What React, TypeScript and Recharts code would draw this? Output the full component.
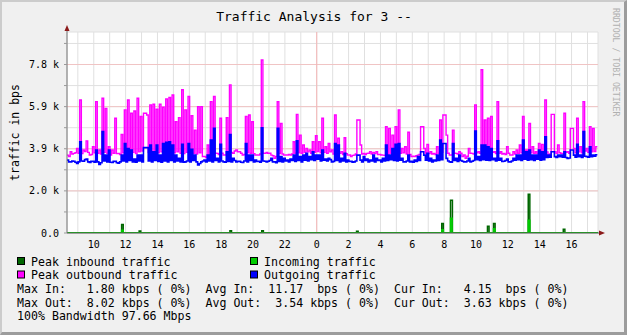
import React from "react";
import { LineChart, Line, XAxis, YAxis, CartesianGrid, ReferenceLine } from "recharts";

// time axis, in hours from midnight of the first day (24 = next midnight)
const START_HOUR = 8.32;
const END_HOUR = 41.66;
const STEP_HOURS = 0.1;
const MIDNIGHT = 24;
const hourTicks = [9, 10, 11, 12, 13, 14, 15, 16, 17, 18, 19, 20, 21, 22, 23, 24, 25, 26, 27, 28, 29, 30, 31, 32, 33, 34, 35, 36, 37, 38, 39, 40, 41];

// y axis in kbps (rrdtool uses 1024 based steps)
const Y_MAX = 9.32;
const yTicks = [0, 0.9765625, 1.953125, 2.9296875, 3.90625, 4.8828125, 5.859375, 6.8359375, 7.8125, 8.7890625];
const yMajor = [1.953125, 3.90625, 5.859375, 7.8125];

// Peak outbound traffic, kbps, one value per 6 minutes
const peakOut = [
  3.61, 3.55, 3.77, 3.66, 3.69, 3.72, 3.92, 3.70, 6.17, 3.68, 3.85, 3.78, 4.27, 3.74, 3.61, 3.64, 4.00, 3.72, 6.09, 3.70,
  3.85, 3.66, 6.25, 3.74, 5.78, 3.70, 4.00, 3.62, 3.85, 3.70, 5.32, 3.68, 3.69, 3.64, 4.57, 3.72, 5.71, 3.76, 6.17, 3.70,
  5.55, 3.74, 5.66, 3.68, 6.25, 3.76, 5.40, 3.80, 5.55, 5.55, 5.47, 3.74, 5.94, 3.70, 5.97, 3.78, 5.74, 3.72, 5.97, 3.76,
  5.83, 3.70, 6.22, 3.74, 6.28, 3.80, 6.40, 3.72, 5.16, 3.76, 5.35, 3.70, 6.64, 3.68, 5.71, 3.74, 6.33, 3.78, 5.44, 3.70,
  4.77, 3.66, 5.86, 3.72,
  5.86, 3.55, 3.55, 3.50, 4.08, 3.62, 6.09, 3.66, 6.33, 3.70, 3.69, 3.64, 5.32, 3.70, 3.61, 3.62, 5.35, 3.72, 6.87, 3.74,
  3.69, 3.80, 3.85, 3.76, 3.77, 3.70, 3.61, 3.64, 5.40, 3.72, 5.47, 3.70, 5.16, 3.68, 3.61, 3.62, 3.61, 3.66, 8.02, 3.70,
  3.69, 3.74, 3.69, 3.70, 3.61, 3.58, 3.46, 3.55, 6.09, 3.68, 5.08, 3.66, 3.61, 3.62, 3.61, 3.64, 3.61, 3.66, 4.23, 3.70,
  5.50, 3.72, 4.54, 3.70, 4.08, 3.74, 3.92, 3.76, 3.85, 3.70, 4.23, 3.74, 4.51, 3.78, 4.23, 3.72, 5.32, 3.74, 4.00, 3.70,
  4.15, 3.76, 3.85, 3.66,
  5.47, 3.72, 4.39, 3.70, 3.77, 3.64, 4.42, 3.68, 3.61, 3.62, 3.54, 3.60, 3.61, 3.66, 5.24, 5.24, 4.08, 3.66, 3.69, 3.64,
  3.69, 3.70, 3.77, 3.66, 3.74, 3.68, 3.77, 3.64, 3.64, 3.62, 3.61, 3.60, 4.93, 3.66, 4.85, 3.70, 4.54, 3.72, 4.93, 3.74,
  5.71, 3.70, 3.92, 3.72, 4.00, 3.66, 4.67, 3.64, 3.54, 3.56, 3.54, 3.58, 3.61, 3.64, 4.93, 4.93, 3.92, 3.70, 4.11, 3.68,
  3.77, 3.66, 3.69, 3.64, 4.00, 3.70, 5.24, 3.74, 5.47, 5.47, 4.54, 3.70, 3.61, 3.62, 4.77, 3.70, 3.69, 3.66, 3.77, 3.70,
  3.54, 3.62,
  3.46, 3.56, 3.92, 3.70, 3.69, 3.66, 5.94, 3.72, 3.77, 3.70, 7.57, 3.74, 5.24, 3.72, 5.32, 3.70, 5.40, 3.74, 3.77, 3.68,
  6.09, 3.70, 3.77, 3.66, 3.69, 3.64, 4.00, 3.70, 3.61, 3.62, 3.77, 3.66, 3.85, 3.70, 4.08, 3.72, 5.40, 3.76, 3.85, 3.70,
  5.08, 3.72, 4.00, 3.70, 3.77, 3.68, 4.15, 3.72, 4.11, 3.74, 6.17, 3.76, 3.61, 3.66, 5.50, 5.50, 3.77, 3.70, 4.08, 3.72,
  3.69, 3.68, 5.55, 3.74, 3.77, 3.70, 4.85, 4.85, 3.92, 3.72, 5.32, 3.76, 4.00, 3.72, 6.09, 3.80, 3.92, 3.74, 4.93, 3.76,
  4.85, 3.78, 4.00, 4.00,
];

// Outgoing traffic, kbps
const outgoing = [
  3.38, 3.30, 3.30, 3.34, 3.33, 3.28, 3.22, 3.30, 4.23, 3.34, 3.33, 3.40, 3.43, 3.30, 3.27, 3.32, 3.33, 3.28, 3.85, 3.30,
  3.18, 3.26, 4.70, 3.34, 3.61, 3.30, 3.85, 3.28, 3.27, 3.32, 3.33, 3.26, 3.24, 3.30, 3.61, 3.34, 4.15, 3.30, 3.92, 3.36,
  3.85, 3.30, 3.43, 3.28, 3.61, 3.34, 3.61, 3.30, 3.96, 3.96, 3.96, 3.34, 4.08, 3.30, 3.77, 3.36, 4.08, 3.32, 3.61, 3.28,
  4.15, 3.34, 4.20, 3.30, 4.23, 3.36, 4.08, 3.30, 3.61, 3.34, 3.46, 3.30, 4.11, 3.28, 3.30, 3.34, 4.15, 3.30, 3.88, 3.36,
  3.61, 3.30, 3.15, 3.22,
  3.30, 3.34, 3.38, 3.30, 3.61, 3.34, 4.31, 3.30, 4.85, 3.36, 3.46, 3.30, 4.11, 3.34, 3.30, 3.28, 3.77, 3.32, 4.57, 3.30,
  3.46, 3.36, 3.30, 3.32, 3.33, 3.28, 3.27, 3.34, 4.15, 3.30, 3.61, 3.36, 3.61, 3.30, 3.38, 3.32, 3.33, 3.28, 4.88, 3.34,
  3.33, 3.30, 3.33, 3.36, 3.46, 3.30, 3.30, 3.26, 4.85, 3.32, 3.54, 3.30, 3.46, 3.34, 3.38, 3.30, 3.43, 3.36, 3.61, 3.32,
  4.27, 3.36, 3.54, 3.30, 3.61, 3.38, 3.69, 3.34, 3.54, 3.40, 3.77, 3.36, 3.61, 3.42, 3.61, 3.34, 3.85, 3.38, 3.43, 3.34,
  3.46, 3.40, 3.30, 3.32,
  4.15, 3.36, 4.08, 3.30, 3.46, 3.34, 3.69, 3.30, 3.38, 3.32, 3.33, 3.28, 3.30, 3.34, 3.61, 3.61, 3.38, 3.30, 3.54, 3.36,
  3.43, 3.30, 3.38, 3.34, 3.61, 3.30, 3.46, 3.36, 3.38, 3.30, 3.46, 3.34, 4.08, 3.36, 3.61, 3.40, 3.92, 3.36, 4.11, 3.34,
  4.15, 3.38, 3.46, 3.30, 3.30, 3.34, 3.61, 3.30, 3.33, 3.28, 3.38, 3.32, 3.54, 3.36, 3.77, 3.77, 3.61, 3.38, 3.69, 3.34,
  3.46, 3.30, 3.38, 3.34, 3.61, 3.36, 4.31, 3.40, 4.15, 4.15, 3.46, 3.34, 3.30, 3.28, 4.15, 3.36, 3.46, 3.32, 3.61, 3.36,
  3.33, 3.30,
  3.30, 3.34, 3.46, 3.30, 3.33, 3.36, 4.73, 3.40, 3.54, 3.36, 4.08, 3.40, 4.08, 3.38, 4.00, 3.36, 3.92, 3.40, 3.46, 3.34,
  4.27, 3.38, 3.46, 3.32, 3.33, 3.36, 3.43, 3.30, 3.30, 3.34, 3.46, 3.38, 3.61, 3.40, 3.61, 3.36, 4.31, 3.42, 3.77, 3.38,
  3.85, 3.40, 3.61, 3.36, 3.61, 3.42, 3.85, 3.38, 3.77, 3.40,
  4.46, 3.50, 3.61, 3.52, 3.77, 3.77, 3.54, 3.50, 3.61, 3.54, 3.61, 3.52, 3.77, 3.50, 3.46, 3.48, 3.85, 3.85, 3.61, 3.52,
  4.11, 3.54, 3.61, 3.50, 4.70, 3.56, 3.54, 3.52, 4.00, 3.54, 3.61, 3.56, 3.63, 3.63,
];

// Peak inbound traffic: [hour, kbps]
const peakIn: [number, number][] = [
  [8.32, 0], [11.75, 0.39], [11.85, 0], [12.85, 0.09], [12.95, 0], [18.55, 0.1], [18.65, 0],
  [20.55, 0.1], [20.65, 0], [26.5, 0.08], [26.6, 0], [31.85, 0.44], [31.95, 0], [32.4, 1.52],
  [32.52, 0], [34.72, 0.31], [34.82, 0], [35.1, 0.44], [35.2, 0], [37.28, 1.8], [37.38, 0],
  [39.48, 0.17], [39.58, 0], [41.66, 0],
];

// Incoming traffic: [hour, kbps]
const incoming: [number, number][] = [
  [8.32, 0.01], [11.75, 0.13], [11.85, 0.01], [31.85, 0.15], [31.95, 0.01], [32.4, 0.68],
  [32.5, 0.01], [35.1, 0.2], [35.2, 0.01], [37.28, 0.59], [37.38, 0.01], [41.66, 0.01],
];

const legendRows = [
  [
    { label: "Peak inbound traffic", color: "#006600" },
    { label: "Incoming traffic", color: "#00cc00" },
  ],
  [
    { label: "Peak outbound traffic", color: "#ff00ff" },
    { label: "Outgoing traffic", color: "#0000ff" },
  ],
];

const statLines = [
  "Max In:   1.80 kbps ( 0%)  Avg In:  11.17  bps ( 0%)  Cur In:   4.15  bps ( 0%)",
  "Max Out:  8.02 kbps ( 0%)  Avg Out:  3.54 kbps ( 0%)  Cur Out:  3.63 kbps ( 0%)",
  "100% Bandwidth 97.66 Mbps",
];

const table = peakOut.map((v, i) => ({
  t: START_HOUR + i * STEP_HOURS,
  peakOut: v,
  out: outgoing[i],
}));
const peakInData = peakIn.map(([t, v]) => ({ t, v }));
const incomingData = incoming.map(([t, v]) => ({ t, v }));

const mono = "'DejaVu Sans Mono', monospace";

const fmtY = (v: number) => {
  if (v === 0) return "0.0";
  if (!yMajor.includes(v)) return "";
  return `${v.toFixed(1)} k`;
};
const fmtX = (h: number) => (h % 2 === 0 ? String(h % 24) : "");

export default function App() {
  return (
    <div style={{ position: "absolute", left: 0, top: 0, width: 627, height: 335, background: "#f0f0f0", fontFamily: mono }}>
      <LineChart width={627} height={335} data={table} margin={{ top: 32, right: 29, bottom: 82, left: 0 }}>
        <CartesianGrid stroke="#e0e0e0" fill="#ffffff" strokeWidth={1} />
        {yMajor.map((y) => (
          <ReferenceLine key={y} y={y} stroke="#f0c4c4" strokeWidth={1} />
        ))}
        <ReferenceLine x={MIDNIGHT} stroke="#f5b5b5" strokeWidth={1} />
        <XAxis
          dataKey="t"
          type="number"
          domain={[START_HOUR, END_HOUR]}
          allowDataOverflow
          ticks={hourTicks}
          interval={0}
          tickFormatter={fmtX}
          height={20}
          tickSize={0}
          tickMargin={8}
          axisLine={{ stroke: "#555555" }}
          tick={{ fontSize: 10, fill: "#000", fontFamily: mono }}
        />
        <YAxis
          type="number"
          domain={[0, Y_MAX]}
          allowDataOverflow
          ticks={yTicks}
          interval={0}
          tickFormatter={fmtY}
          width={67}
          tickSize={3}
          tickMargin={5}
          axisLine={{ stroke: "#777777" }}
          tickLine={{ stroke: "#999999" }}
          tick={{ fontSize: 10, fill: "#000", fontFamily: mono }}
        />
        <Line data={peakInData} dataKey="v" type="stepAfter" stroke="#006600" strokeWidth={1.5} dot={false} isAnimationActive={false} />
        <Line data={incomingData} dataKey="v" type="stepAfter" stroke="#00cc00" strokeWidth={1.5} dot={false} isAnimationActive={false} />
        <Line dataKey="peakOut" type="stepAfter" stroke="#ff00ff" strokeWidth={1.4} dot={false} isAnimationActive={false} />
        <Line dataKey="out" type="stepAfter" stroke="#0000ff" strokeWidth={1.6} dot={false} isAnimationActive={false} />
      </LineChart>

      <svg width={627} height={335} style={{ position: "absolute", left: 0, top: 0, pointerEvents: "none" }}>
        <text x={314} y={21} textAnchor="middle" fontSize={13} fontFamily={mono} fill="#000">
          Traffic Analysis for 3 --
        </text>
        <text x={15} y={132.5} transform="rotate(-90 15 132.5)" textAnchor="middle" dominantBaseline="central" fontSize={11.5} fontFamily={mono} fill="#000">
          traffic in bps
        </text>
        <text x={616} y={8} transform="rotate(90 616 8)" textAnchor="start" dominantBaseline="central" fontSize={8.2} fontFamily={mono} fill="#b0b0b0">
          RRDTOOL / TOBI OETIKER
        </text>
        <line x1={67} y1={32} x2={67} y2={28} stroke="#777" />
        <polygon points="64.5,31 69.5,31 67,25" fill="#8b1a1a" />
        <line x1={598} y1={233} x2={600} y2={233} stroke="#555" />
        <polygon points="599,230.5 599,235.5 605,233" fill="#8b1a1a" />
        {legendRows.map((row, r) =>
          row.map((item, c) => (
            <g key={`${r}-${c}`}>
              <rect x={c === 0 ? 17.5 : 250.5} y={257.5 + r * 13.5} width={7} height={7} fill={item.color} stroke="#000" />
              <text x={c === 0 ? 31 : 264} y={265.5 + r * 13.5} fontSize={11.6} fontFamily={mono} fill="#000">
                {item.label}
              </text>
            </g>
          ))
        )}
        {statLines.map((s, i) => (
          <text key={i} x={17} y={293 + i * 13.5} fontSize={11.6} fontFamily={mono} fill="#000" style={{ whiteSpace: "pre" }}>
            {s}
          </text>
        ))}
      </svg>
      <div
        style={{
          position: "absolute",
          inset: 0,
          boxSizing: "border-box",
          borderTop: "2px solid #cccccc",
          borderLeft: "2px solid #cccccc",
          borderRight: "3px solid #9c9c9c",
          borderBottom: "3px solid #9c9c9c",
          pointerEvents: "none",
        }}
      />
    </div>
  );
}
